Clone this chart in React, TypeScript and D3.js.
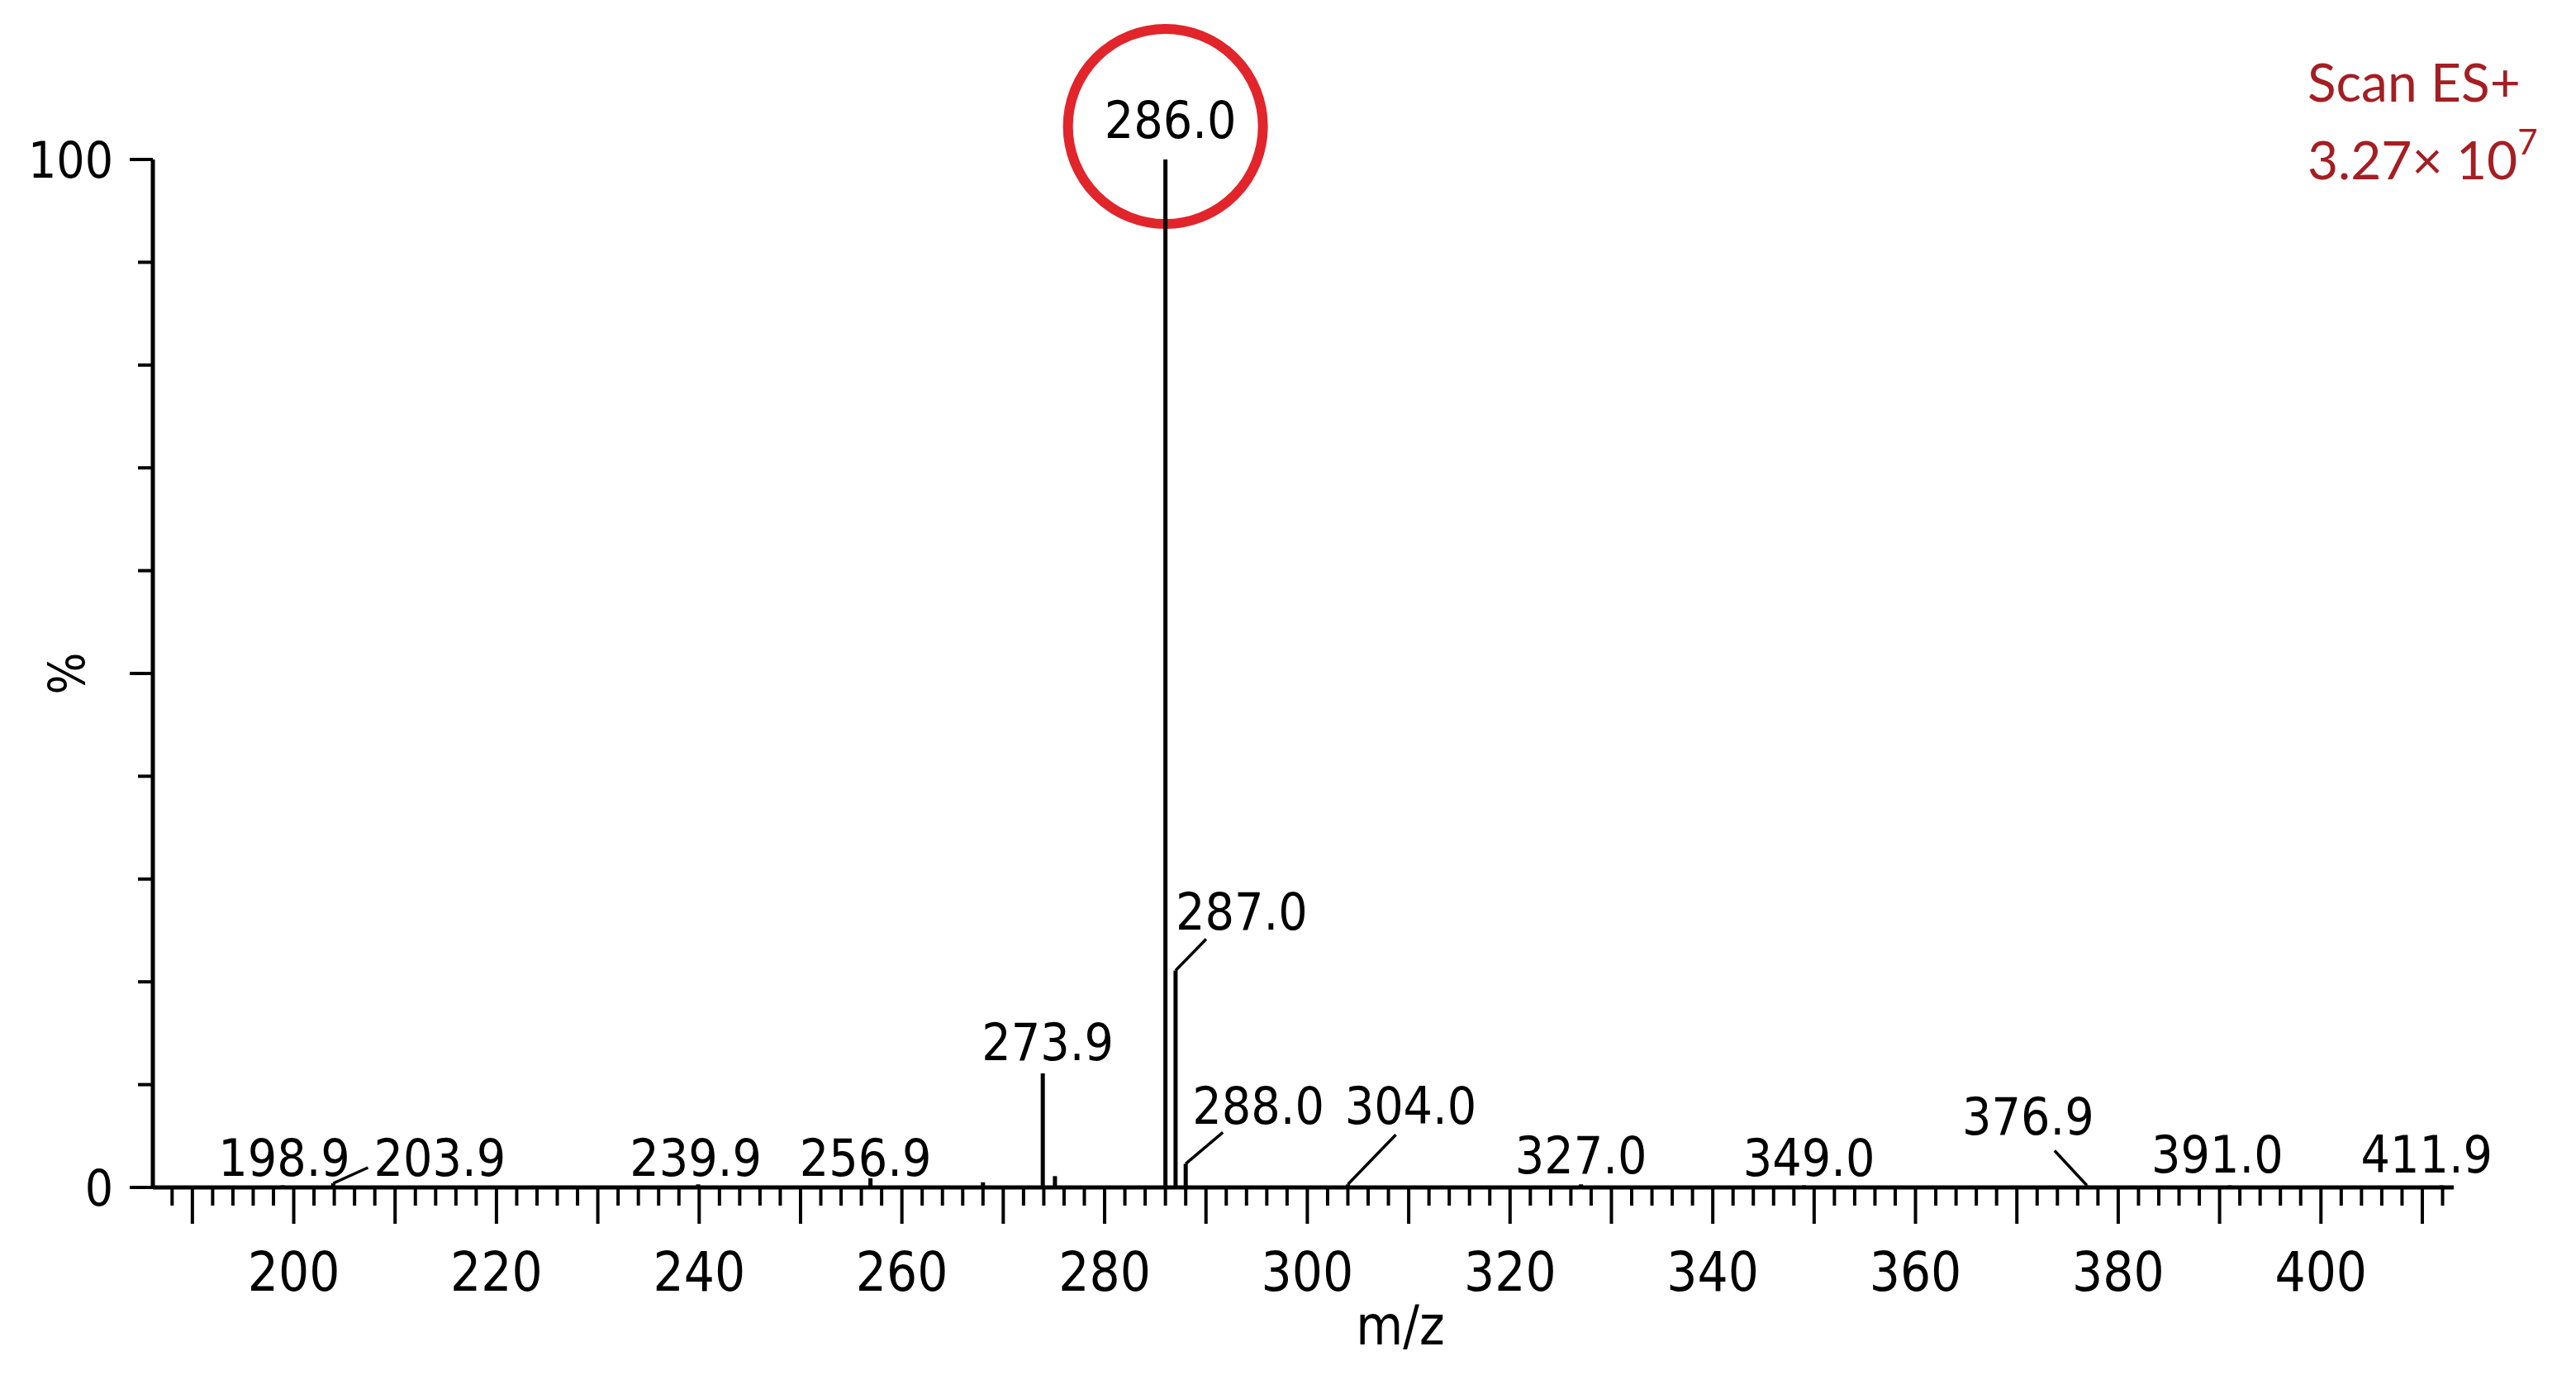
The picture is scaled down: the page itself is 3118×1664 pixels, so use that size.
import * as d3 from 'd3'

const WIDTH = 3118
const HEIGHT = 1664

// spectrum peaks: m/z and relative intensity (%)
const peakMz = [198.9, 203.9, 239.9, 256.9, 268.0, 273.9, 275.1, 286.0, 287.0, 288.0, 304.0, 327.0, 349.0, 376.9, 391.0, 411.9]
const peakIntensity = [0.2, 0.4, 0.3, 0.9, 0.5, 11.1, 1.1, 100, 21.1, 2.3, 0.3, 0.3, 0.2, 0.2, 0.2, 0.2]
const peakLabelled = [true, true, true, true, false, true, false, true, true, true, true, true, true, true, true, true]

// axis tick labels
const xTickLabels = [200, 220, 240, 260, 280, 300, 320, 340, 360, 380, 400]
const yTickLabels = [0, 100]
const yMinorTicks = [10, 20, 30, 40, 60, 70, 80, 90]

// label placement (px from the top of each peak), leader end relative to the label anchor
const labelShift: Record<string, [number, number]> = {
    '198.9': [2, -12], '203.9': [129, -9], '239.9': [-3, -10], '256.9': [-6, -3],
    '273.9': [6, -16], '286.0': [6, -26], '287.0': [80, -50], '288.0': [88, -48],
    '304.0': [76, -73], '327.0': [0, -13], '349.0': [6, -12], '376.9': [-71, -62],
    '391.0': [-15, -16], '411.9': [-18, -16]
}
const leaderEnd: Record<string, [number, number]> = {
    '203.9': [-87, -10], '287.0': [-43, 12], '288.0': [-43, 10], '304.0': [-18, 13], '376.9': [32, 20]
}

const FONT = '"DejaVu Sans Condensed", "DejaVu Sans", sans-serif'

const x = d3.scaleLinear().domain([186.1, 413.1]).range([185, 2970])
const y = d3.scaleLinear().domain([0, 100]).range([1437, 193])

const XAxis = () => {
    const y0 = y(0)
    const minor = d3.range(188, 413, 2).filter(v => v % 10 !== 0)
    const major = d3.range(190, 413, 10)
    return (
        <g stroke="#000" strokeWidth={4}>
            <line x1={x.range()[0]} x2={x.range()[1]} y1={y0} y2={y0} strokeWidth={5} />
            {minor.map(v => <line key={'m' + v} x1={x(v)} x2={x(v)} y1={y0} y2={y0 + 22} />)}
            {major.map(v => <line key={'M' + v} x1={x(v)} x2={x(v)} y1={y0} y2={y0 + 44} />)}
            {xTickLabels.map(v => (
                <text key={'t' + v} x={x(v)} y={1562} stroke="none" fill="#000"
                    textAnchor="middle" fontFamily={FONT} fontSize={65}>{v}</text>
            ))}
            <text x={1695} y={1627} stroke="none" fill="#000" textAnchor="middle"
                fontFamily={FONT} fontSize={65}>m/z</text>
        </g>
    )
}

const YAxis = () => {
    const x0 = x.range()[0]
    return (
        <g stroke="#000" strokeWidth={4}>
            <line x1={x0} x2={x0} y1={y(0) + 2} y2={y(100)} strokeWidth={5} />
            {yMinorTicks.map(v => <line key={'m' + v} x1={x0 - 18} x2={x0} y1={y(v)} y2={y(v)} />)}
            {[0, 50, 100].map(v => <line key={'M' + v} x1={x0 - 28} x2={x0} y1={y(v)} y2={y(v)} />)}
            {yTickLabels.map(v => (
                <text key={'t' + v} x={137} y={y(v)} dy="0.36em" stroke="none" fill="#000"
                    textAnchor="end" fontFamily={FONT} fontSize={60}>{v}</text>
            ))}
            <text transform={`translate(80, ${y(50)}) rotate(-90)`} dy="0.36em" stroke="none"
                fill="#000" textAnchor="middle" fontFamily={FONT} fontSize={60}>%</text>
        </g>
    )
}

const Peaks = () => (
    <g>
        {peakMz.map((mz, i) => {
            const px = x(mz)
            const top = y(peakIntensity[i])
            const txt = mz.toFixed(1)
            const shift = labelShift[txt]
            const lead = leaderEnd[txt]
            const lx = shift ? px + shift[0] : px
            const ly = shift ? top + shift[1] : top
            return (
                <g key={i}>
                    <line x1={px} x2={px} y1={y(0)} y2={top} stroke="#000" strokeWidth={5} />
                    {peakLabelled[i] && lead &&
                        <line x1={px} y1={top} x2={lx + lead[0]} y2={ly + lead[1]} stroke="#000" strokeWidth={3.5} />}
                    {peakLabelled[i] &&
                        <text x={lx} y={ly} textAnchor="middle" fontFamily={FONT} fontSize={62} fill="#000">{txt}</text>}
                </g>
            )
        })}
    </g>
)

// red ring around the base peak label
const Highlight = () => {
    const i = peakIntensity.indexOf(d3.max(peakIntensity) as number)
    return <circle cx={x(peakMz[i])} cy={y(peakIntensity[i]) - 40} r={118}
        fill="none" stroke="#e1252b" strokeWidth={12} />
}

const ScanInfo = () => (
    <g fill="#a41e22" fontFamily="Lato, 'Open Sans', sans-serif" fontSize={64}>
        <text x={2793} y={123}>Scan ES+</text>
        <text x={2793} y={217}>3.27× 10<tspan dy={-30} fontSize={42}>7</tspan></text>
    </g>
)

const App = () => (
    <div style={{ position: 'absolute', left: 0, top: 0 }}>
        <svg width={WIDTH} height={HEIGHT} style={{ display: 'block', background: '#fff' }}>
            <rect width={WIDTH} height={HEIGHT} fill="#fff" />
            <Highlight />
            <Peaks />
            <XAxis />
            <YAxis />
            <ScanInfo />
        </svg>
    </div>
)

export default App
